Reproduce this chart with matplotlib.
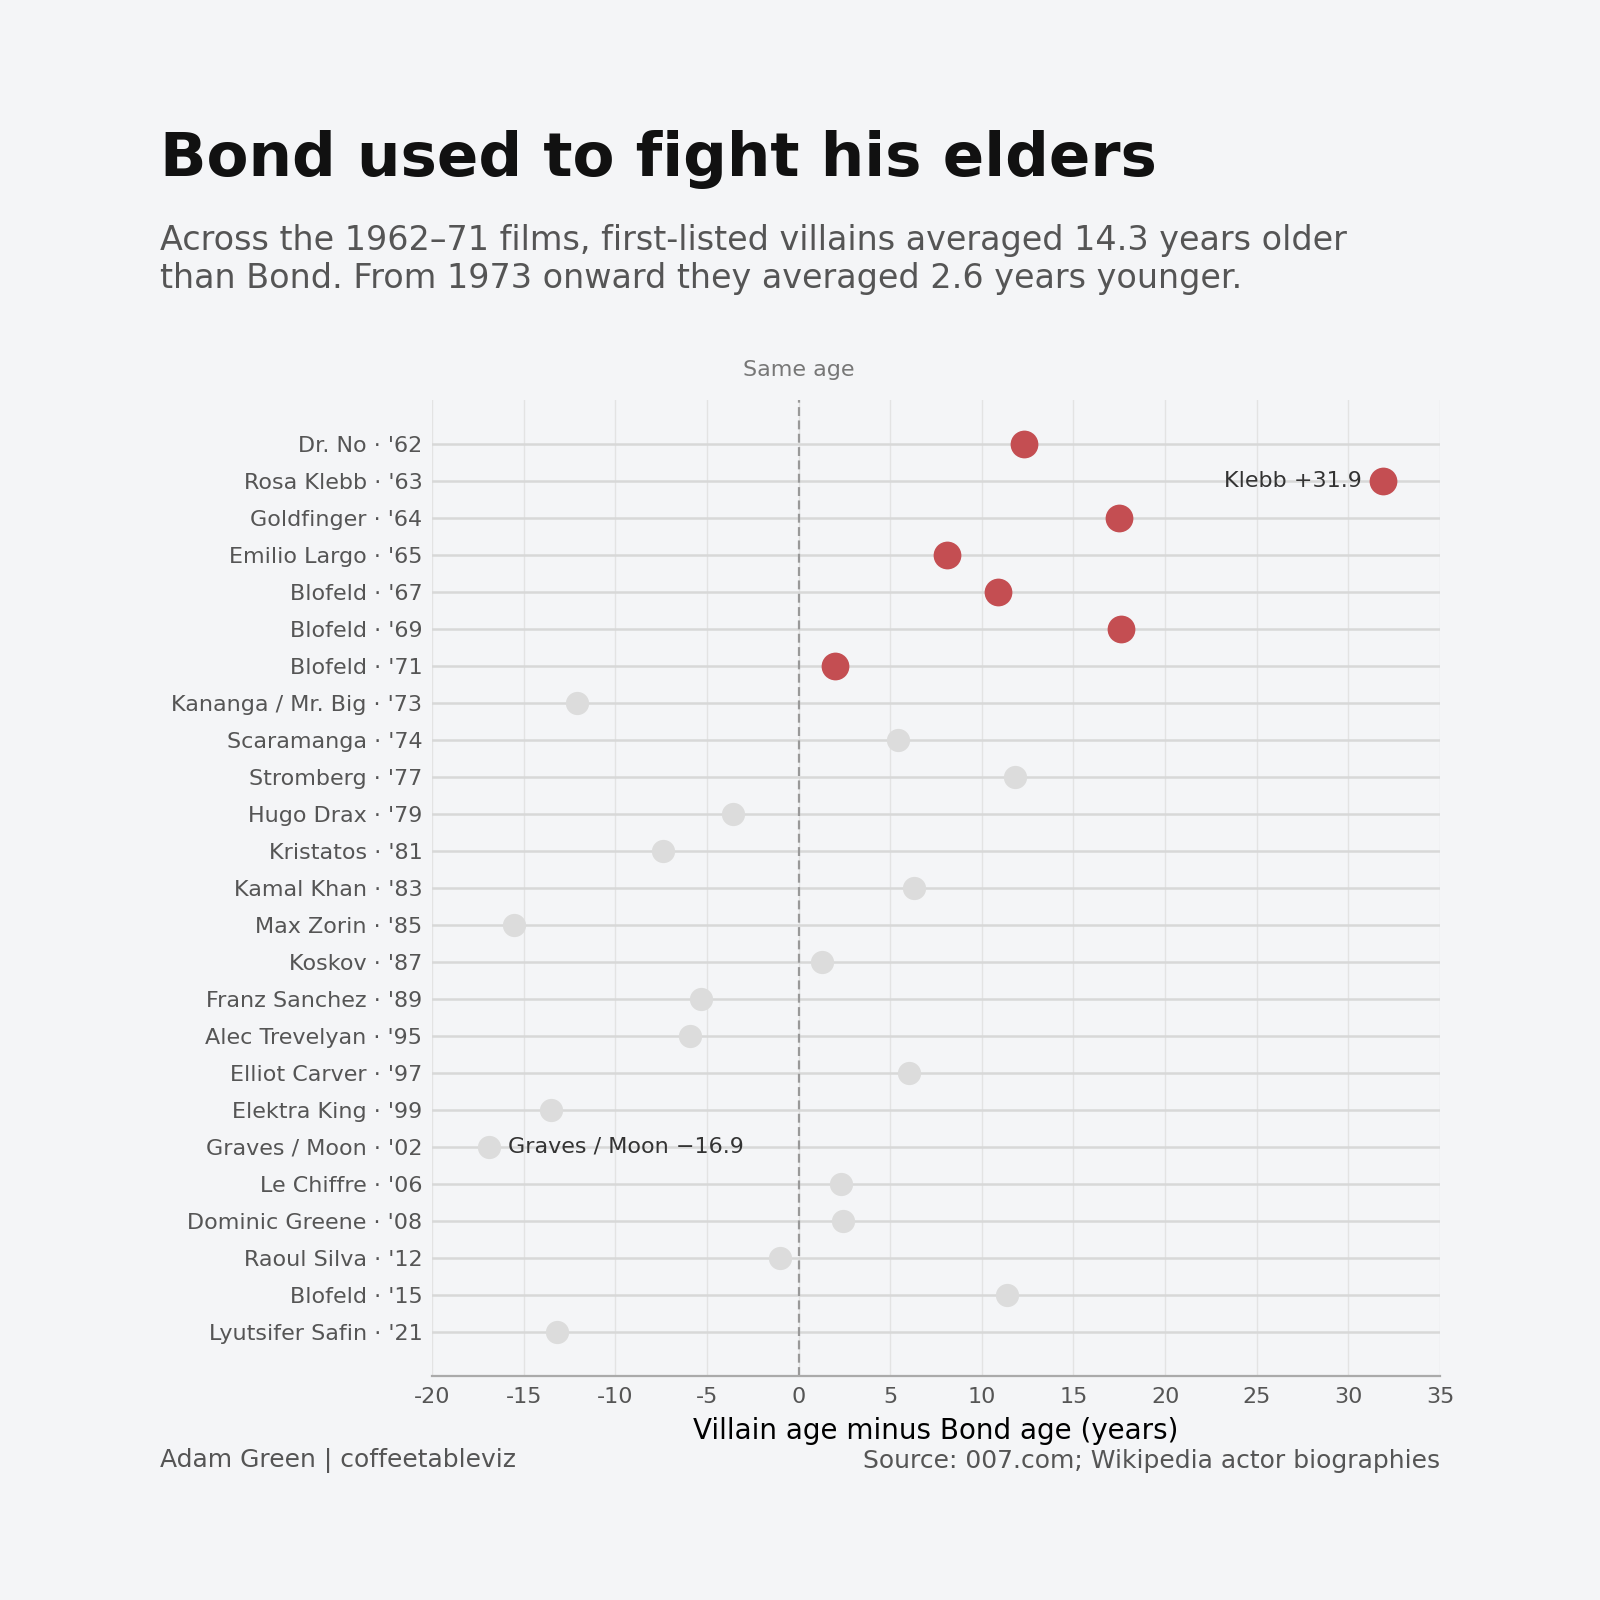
import matplotlib
matplotlib.use("Agg")
import matplotlib.pyplot as plt
import numpy as np

plt.rcParams["axes.unicode_minus"] = False

# --- Data: villain age minus Bond age ---
villains = ["Dr. No · '62", "Rosa Klebb · '63", "Goldfinger · '64", "Emilio Largo · '65",
            "Blofeld · '67", "Blofeld · '69", "Blofeld · '71", "Kananga / Mr. Big · '73",
            "Scaramanga · '74", "Stromberg · '77", "Hugo Drax · '79", "Kristatos · '81",
            "Kamal Khan · '83", "Max Zorin · '85", "Koskov · '87", "Franz Sanchez · '89",
            "Alec Trevelyan · '95", "Elliot Carver · '97", "Elektra King · '99",
            "Graves / Moon · '02", "Le Chiffre · '06", "Dominic Greene · '08",
            "Raoul Silva · '12", "Blofeld · '15", "Lyutsifer Safin · '21"]
age_gap = [12.3, 31.9, 17.5, 8.1, 10.9, 17.6, 2.0, -12.1,
           5.4, 11.8, -3.6, -7.4, 6.3, -15.5, 1.3, -5.3,
           -5.9, 6.0, -13.5, -16.9, 2.3, 2.4, -1.0, 11.4, -13.2]
early = [True] * 7 + [False] * 18

bg = "#f4f5f7"
red = "#c44e52"
grey = "#dcdcdc"

fig = plt.figure(figsize=(16, 16), dpi=100, facecolor=bg)
ax = fig.add_axes([0.27, 0.14, 0.63, 0.61], facecolor=bg)

y = np.arange(len(villains))
x = np.array(age_gap)
early = np.array(early)

# row lines
for yi in y:
    ax.axhline(yi, color="#d8d8d8", lw=1.8, zorder=1)

# vertical grid
ax.set_xlim(-20, 35)
ax.set_xticks(np.arange(-20, 36, 5))
ax.grid(axis="x", color="#e3e3e3", lw=1, zorder=0)
ax.set_axisbelow(True)

# same-age line
ax.axvline(0, color="#999999", lw=1.6, ls=(0, (4, 2)), zorder=2)
ax.text(0, 1.02, "Same age", transform=ax.get_xaxis_transform(),
        ha="center", va="bottom", fontsize=16, color="#777777")

# dots
ax.scatter(x[~early], y[~early], s=280, color=grey, zorder=3, linewidths=0)
ax.scatter(x[early], y[early], s=400, color=red, zorder=4, linewidths=0)

ax.set_ylim(len(villains) - 1 + 1.2, -1.2)
ax.set_yticks(y)
ax.set_yticklabels(villains, fontsize=16, color="#555555")
ax.tick_params(axis="x", labelsize=16, labelcolor="#555555", length=0, pad=8)
ax.tick_params(axis="y", length=0, pad=7)

for s in ["top", "right", "left"]:
    ax.spines[s].set_visible(False)
ax.spines["bottom"].set_color("#aaaaaa")
ax.spines["bottom"].set_linewidth(1.6)

ax.set_xlabel("Villain age minus Bond age (years)", fontsize=20, color="black", labelpad=7)

# callouts
i_klebb = 1
ax.annotate(f"Klebb +{age_gap[i_klebb]:.1f}", (age_gap[i_klebb], i_klebb),
            xytext=(-15, 0), textcoords="offset points", ha="right", va="center",
            fontsize=16, color="#333333")
i_graves = 19
ax.annotate(f"Graves / Moon \u2212{abs(age_gap[i_graves]):.1f}", (age_gap[i_graves], i_graves),
            xytext=(14, 0), textcoords="offset points", ha="left", va="center",
            fontsize=16, color="#333333")

# titles
fig.text(0.1, 0.89, "Bond used to fight his elders", fontsize=44, fontweight="bold",
         color="#111111", ha="left", va="baseline")
fig.text(0.1, 0.86, "Across the 1962\u201371 films, first-listed villains averaged 14.3 years older\n"
         "than Bond. From 1973 onward they averaged 2.6 years younger.",
         fontsize=24, color="#555555", ha="left", va="top", linespacing=1.2)

# footer
fig.text(0.1, 0.087, "Adam Green | coffeetableviz", fontsize=18, color="#555555",
         ha="left", va="center")
fig.text(0.9, 0.087, "Source: 007.com; Wikipedia actor biographies", fontsize=18,
         color="#555555", ha="right", va="center")

fig.savefig("out.png", dpi=100, facecolor=bg)
